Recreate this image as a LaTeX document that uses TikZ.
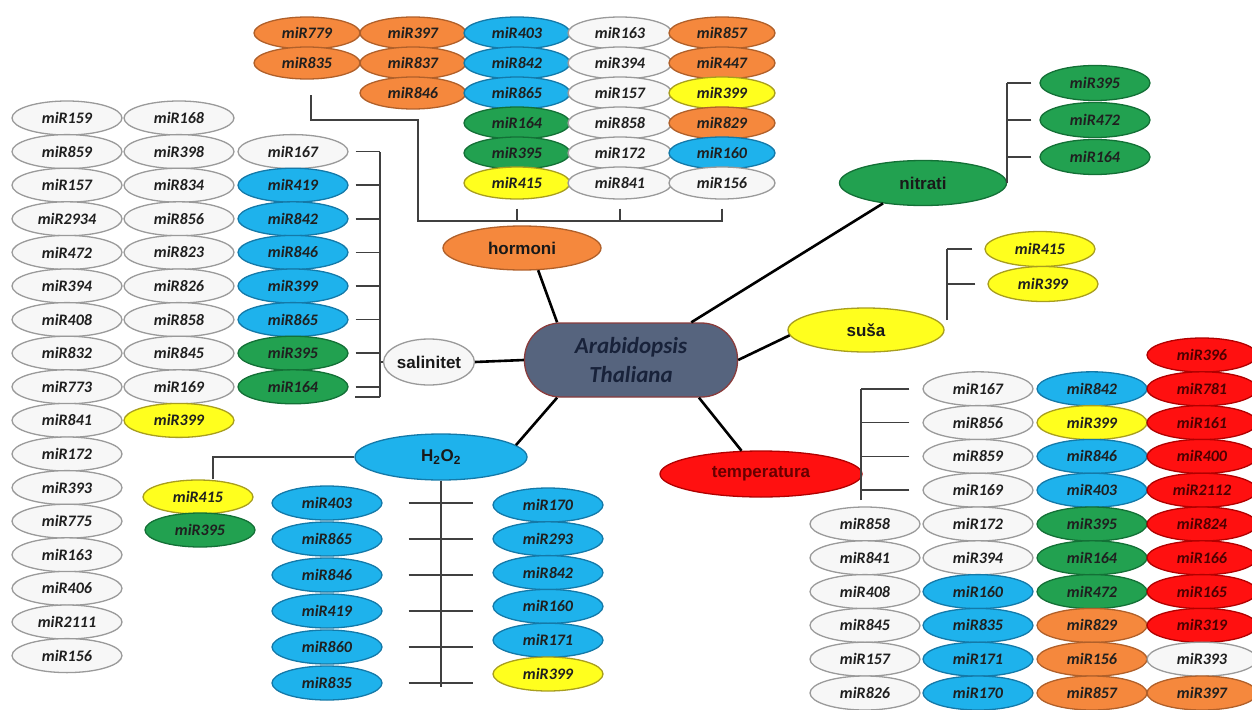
\documentclass[tikz,border=0pt]{standalone}
\usepackage{fontspec}
\usetikzlibrary{shapes.geometric,calc}
\newfontfamily\carl{Carlito}
\newfontfamily\libs{Liberation Sans}
\definecolor{cwh}{HTML}{F7F7F7}
\definecolor{cwhd}{HTML}{9A9A9A}
\definecolor{cbl}{HTML}{1EB2EC}
\definecolor{cbld}{HTML}{1479A8}
\definecolor{cgr}{HTML}{22A150}
\definecolor{cgrd}{HTML}{137036}
\definecolor{cor}{HTML}{F5883D}
\definecolor{cord}{HTML}{B0602A}
\definecolor{cye}{HTML}{FFFF1E}
\definecolor{cyed}{HTML}{A89E1E}
\definecolor{crd}{HTML}{FF1010}
\definecolor{crdd}{HTML}{B00000}
\definecolor{cctr}{HTML}{56647E}
\definecolor{cctrd}{HTML}{8A3C3C}
\definecolor{ctxt}{HTML}{18223A}
\definecolor{brk}{HTML}{404040}
\newcommand\MiRf{\carl\bfseries\itshape\fontsize{16}{16}\selectfont}
\newcommand\CatF{\libs\bfseries\fontsize{17}{17}\selectfont}
\begin{document}
\begin{tikzpicture}[x=1pt,y=-1pt,
  mir/.style={ellipse, inner sep=0pt, minimum width=110pt, minimum height=34pt, line width=1.3pt, font=\MiRf, text=black!88},
  wh/.style={mir, fill=cwh, draw=cwhd},
  bl/.style={mir, fill=cbl, draw=cbld},
  gr/.style={mir, fill=cgr, draw=cgrd},
  or/.style={mir, fill=cor, draw=cord},
  ye/.style={mir, fill=cye, draw=cyed},
  rd/.style={mir, fill=crd, draw=crdd, text=black!70!red},
  cat/.style={ellipse, inner sep=0pt, line width=1.3pt, font=\CatF, text=black!90},
  br/.style={draw=brk, line width=1.6pt},
  ln/.style={draw=black, line width=2.6pt}]
\useasboundingbox (0,0) rectangle (1252,709);

% ---------- left columns ----------
\foreach \t [count=\i] in {miR159,miR859,miR157,miR2934,miR472,miR394,miR408,miR832,miR773,miR841,miR172,miR393,miR775,miR163,miR406,miR2111,miR156}
  \node[wh] (la\i) at (67,{118+(\i-1)*33.6}) {\t};
\foreach \t/\s [count=\i] in {miR168/wh,miR398/wh,miR834/wh,miR856/wh,miR823/wh,miR826/wh,miR858/wh,miR845/wh,miR169/wh,miR399/ye}
  \node[\s] (lb\i) at (179,{118+(\i-1)*33.6}) {\t};
\foreach \t/\s [count=\i] in {miR167/wh,miR419/bl,miR842/bl,miR846/bl,miR399/bl,miR865/bl,miR395/gr,miR164/gr}
  \node[\s] (sa\i) at (293,{151.6+(\i-1)*33.6}) {\t};

% ---------- hormoni grid ----------
\foreach \t/\s [count=\i] in {miR779/or,miR835/or}
  \node[\s, minimum width=106pt, minimum height=32pt] (hA\i) at (307,{33+(\i-1)*30}) {\t};
\foreach \t/\s [count=\i] in {miR397/or,miR837/or,miR846/or}
  \node[\s, minimum width=106pt, minimum height=32pt] (hB\i) at (413,{33+(\i-1)*30}) {\t};
\foreach \t/\s [count=\i] in {miR403/bl,miR842/bl,miR865/bl,miR164/gr,miR395/gr,miR415/ye}
  \node[\s, minimum width=106pt, minimum height=32pt] (hC\i) at (517,{33+(\i-1)*30}) {\t};
\foreach \t/\s [count=\i] in {miR163/wh,miR394/wh,miR157/wh,miR858/wh,miR172/wh,miR841/wh}
  \node[\s, minimum width=104pt, minimum height=32pt] (hD\i) at (620,{33+(\i-1)*30}) {\t};
\foreach \t/\s [count=\i] in {miR857/or,miR447/or,miR399/ye,miR829/or,miR160/bl,miR156/wh}
  \node[\s, minimum width=106pt, minimum height=32pt] (hE\i) at (722,{33+(\i-1)*30}) {\t};

% ---------- nitrati / susa groups ----------
\foreach \t [count=\i] in {miR395,miR472,miR164}
  \node[gr, minimum height=35pt] (nm\i) at (1095,{83+(\i-1)*37}) {\t};
\node[ye, minimum height=35pt] (su1) at (1040,249) {miR415};
\node[ye, minimum height=35pt] (su2) at (1043,284) {miR399};

% ---------- H2O2 group ----------
\node[ye] (hm1) at (198,497) {miR415};
\node[gr] (hm2) at (200,530) {miR395};
\foreach \t [count=\i] in {miR403,miR865,miR846,miR419,miR860,miR835}
  \node[bl] (hl\i) at (327,{503+(\i-1)*36}) {\t};
\foreach \t/\s [count=\i] in {miR170/bl,miR293/bl,miR842/bl,miR160/bl,miR171/bl,miR399/ye}
  \node[\s] (hr\i) at (548,{505+(\i-1)*33.8}) {\t};

% ---------- temperatura grid ----------
\foreach \t [count=\i] in {miR858,miR841,miR408,miR845,miR157,miR826}
  \node[wh] (tA\i) at (865,{355+33.8*(\i+4)}) {\t};
\foreach \t/\s [count=\i] in {miR167/wh,miR856/wh,miR859/wh,miR169/wh,miR172/wh,miR394/wh,miR160/bl,miR835/bl,miR171/bl,miR170/bl}
  \node[\s] (tB\i) at (978,{355+33.8*\i}) {\t};
\foreach \t/\s [count=\i] in {miR842/bl,miR399/ye,miR846/bl,miR403/bl,miR395/gr,miR164/gr,miR472/gr,miR829/or,miR156/or,miR857/or}
  \node[\s] (tC\i) at (1092,{355+33.8*\i}) {\t};
\foreach \t/\s [count=\i] in {miR396/rd,miR781/rd,miR161/rd,miR400/rd,miR2112/rd,miR824/rd,miR166/rd,miR165/rd,miR319/rd,miR393/wh,miR397/or}
  \node[\s] (tD\i) at (1202,{355+33.8*(\i-1)}) {\t};

% ---------- category nodes ----------
\node[draw=cctrd, fill=cctr, rounded corners=36pt, minimum width=213pt, minimum height=74pt,
      line width=1.3pt, align=center, text=ctxt,
      font={\carl\bfseries\itshape\fontsize{23}{29}\selectfont}] (at) at (631,360) {Arabidopsis\\Thaliana};
\node[cat, fill=cor, draw=cord, minimum width=158pt, minimum height=44pt] (hor) at (522,248) {hormoni};
\node[cat, fill=cwh, draw=cwhd, minimum width=88pt, minimum height=46pt] (sal) at (429,362) {salinitet};
\node[cat, fill=cgr, draw=cgrd, minimum width=167pt, minimum height=45pt] (nit) at (923,183) {nitrati};
\node[cat, fill=cye, draw=cyed, minimum width=156pt, minimum height=44pt] (sus) at (866,330) {suša};
\node[cat, fill=crd, draw=crdd, minimum width=202pt, minimum height=46pt, text=black!60!red] (tem) at (761,474) {temperatura};
\node[cat, fill=cbl, draw=cbld, minimum width=172pt, minimum height=46pt] (h2o) at (441,457) {H\textsubscript{2}O\textsubscript{2}};

% ---------- main connectors ----------
\draw[ln] (at.153) -- (hor.-54);
\draw[ln] (at.32) -- (nit.207);
\draw[ln] (at.east) -- (sus.184);
\draw[ln] (at.-29) -- (tem.130);
\draw[ln] (at.207) -- (h2o.9);
\draw[ln] (at.west) -- (sal.east);

% ---------- brackets ----------
% salinitet
\coordinate (sb) at (380,397);
\draw[br] (sb) -- (sb |- sa1);
\foreach \i in {1,...,8} \draw[br] ($(sa\i.east)+(7,0)$) -- (sb |- sa\i);
\draw[br] (sb) -- ++(-25,0);
\draw[br] (sb |- sal.west) -- (sal.west);
% hormoni
\coordinate (hb1) at (311,95);
\coordinate (hb2) at (418,120);
\coordinate (hb3) at (723,221);
\draw[br] (hb1) |- (hb2) |- (hb3);
\foreach \c in {C,D,E} \draw[br] ($(h\c6.south)+(0,9)$) -- (h\c6.south |- hb3);
% nitrati
\draw[br] (nit.east) -- (nit.east |- nm1);
\foreach \i in {1,2,3} \draw[br] ($(nm\i.west)+(-8,0)$) -- (nit.east |- nm\i);
% susa
\coordinate (sb2) at (947,320);
\draw[br] (sb2) -- (sb2 |- su1);
\foreach \i in {1,2} \draw[br] ($(su\i.west)+(-12,0)$) -- (sb2 |- su\i);
% temperatura
\coordinate (tbk) at (861,500);
\draw[br] (tbk) -- (tbk |- tB1);
\foreach \i in {1,...,4} \draw[br] ($(tB\i.west)+(-13,0)$) -- (tbk |- tB\i);
% H2O2
\draw[br] (h2o.south) -- ($(h2o.south |- hl6)+(0,4)$);
\foreach \i in {1,...,6} \draw[br] ($(hl\i.east)+(26,0)$) -- ++(64,0);
\draw[br] (h2o.west) -| ($(hm1.north)+(15,0)$);
\end{tikzpicture}
\end{document}
